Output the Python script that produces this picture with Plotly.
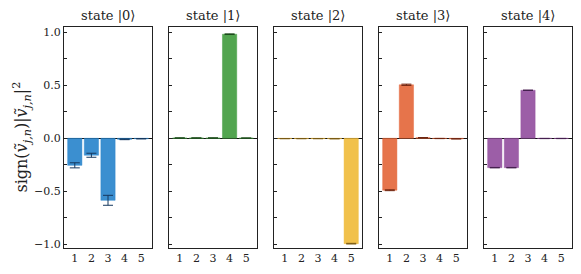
import plotly.graph_objects as go

categories = [1, 2, 3, 4, 5]
state_titles = ["state |0⟩", "state |1⟩", "state |2⟩", "state |3⟩", "state |4⟩"]

state0 = [-0.255, -0.160, -0.585, -0.010, -0.004]
state1 = [0.003, 0.003, 0.003, 0.982, 0.002]
state2 = [-0.003, -0.003, -0.003, -0.004, -0.994]
state3 = [-0.490, 0.505, 0.006, -0.002, -0.005]
state4 = [-0.277, -0.277, 0.453, -0.002, -0.002]

err0 = [0.024, 0.019, 0.047, 0.003, 0.002]
err1 = [0.001, 0.001, 0.001, 0.003, 0.001]
err2 = [0.001, 0.001, 0.001, 0.001, 0.003]
err3 = [0.004, 0.006, 0.001, 0.001, 0.001]
err4 = [0.002, 0.002, 0.002, 0.001, 0.001]

values = [state0, state1, state2, state3, state4]
errors = [err0, err1, err2, err3, err4]

fill_colors = ["rgba(42,134,204,0.92)", "rgba(67,157,64,0.92)", "rgba(240,188,60,0.92)",
               "rgba(228,104,60,0.92)", "rgba(148,80,160,0.92)"]
edge_colors = ["rgba(42,134,204,0.45)", "rgba(67,157,64,0.45)", "rgba(240,188,60,0.45)",
               "rgba(228,104,60,0.45)", "rgba(148,80,160,0.45)"]
err_colors = ["#16385e", "#1d4a1c", "#7a5a14", "#6e2410", "#45204f"]

fig = go.Figure()

W, H = 581, 274
ml, mr, mt, mb = 64, 9, 27, 26
pw = W - ml - mr
panel_w = 88
gap = 17

font_family = "DejaVu Serif, Liberation Serif, serif"

for i in range(5):
    x0 = i * (panel_w + gap) / pw
    x1 = (i * (panel_w + gap) + panel_w) / pw
    xa = "xaxis" if i == 0 else f"xaxis{i+1}"
    ya = "yaxis" if i == 0 else f"yaxis{i+1}"
    xr = "x" if i == 0 else f"x{i+1}"
    yr = "y" if i == 0 else f"y{i+1}"
    fig.add_trace(go.Bar(
        x=categories, y=values[i], width=0.86,
        marker=dict(color=fill_colors[i], line=dict(color=edge_colors[i], width=1)),
        error_y=dict(type="data", array=errors[i], visible=True,
                     color=err_colors[i], thickness=1, width=5),
        xaxis=xr, yaxis=yr, showlegend=False, hoverinfo="skip",
    ))
    fig.update_layout(**{
        xa: dict(domain=[x0, x1], anchor=yr, range=[0.35, 5.65],
                 tickmode="array", tickvals=categories,
                 ticktext=[str(c) for c in categories],
                 ticks="", showline=True, mirror=True, linecolor="#222", linewidth=1,
                 showgrid=False, zeroline=False,
                 tickfont=dict(family=font_family, size=11, color="#222")),
        ya: dict(anchor=xr, range=[-1.035, 1.05], tickmode="array",
                 tickvals=[-1.0, -0.5, 0.0, 0.5, 1.0],
                 ticktext=["−1.0", "−0.5", "0.0", "0.5", "1.0"],
                 showticklabels=(i == 0),
                 ticks="inside", ticklen=3, tickcolor="#222", tickwidth=1,
                 minor=dict(tickvals=[-0.75, -0.25, 0.25, 0.75], ticks="inside",
                            ticklen=3, tickcolor="#222", tickwidth=1, showgrid=False),
                 showline=True, mirror=True, linecolor="#222", linewidth=1,
                 showgrid=False, zeroline=True, zerolinecolor="#111", zerolinewidth=1,
                 layer="above traces",
                 tickfont=dict(family=font_family, size=11, color="#222")),
    })
    fig.add_annotation(text=state_titles[i], xref="paper", yref="paper",
                       x=(x0 + x1) / 2, y=1, yanchor="bottom", xanchor="center",
                       yshift=2, showarrow=False,
                       font=dict(family=font_family, size=13, color="#222"))

fig.add_annotation(
    text="sign(<i>ṽ</i><sub><i>j,n</i></sub>)|<i>ṽ</i><sub><i>j,n</i></sub>|<sup>2</sup>",
    xref="paper", yref="paper", x=0, y=0.5, xshift=-42, textangle=-90,
    xanchor="center", yanchor="middle", showarrow=False,
    font=dict(family=font_family, size=16, color="#222"))

fig.update_layout(
    width=W, height=H, margin=dict(l=ml, r=mr, t=mt, b=mb),
    plot_bgcolor="white", paper_bgcolor="white", bargap=0,
    font=dict(family=font_family, color="#222"),
    hovermode=False,
)

fig.write_html("out.html", config={"displayModeBar": False, "staticPlot": True},
               post_script="document.body.style.margin='0';document.body.style.overflow='hidden';")
